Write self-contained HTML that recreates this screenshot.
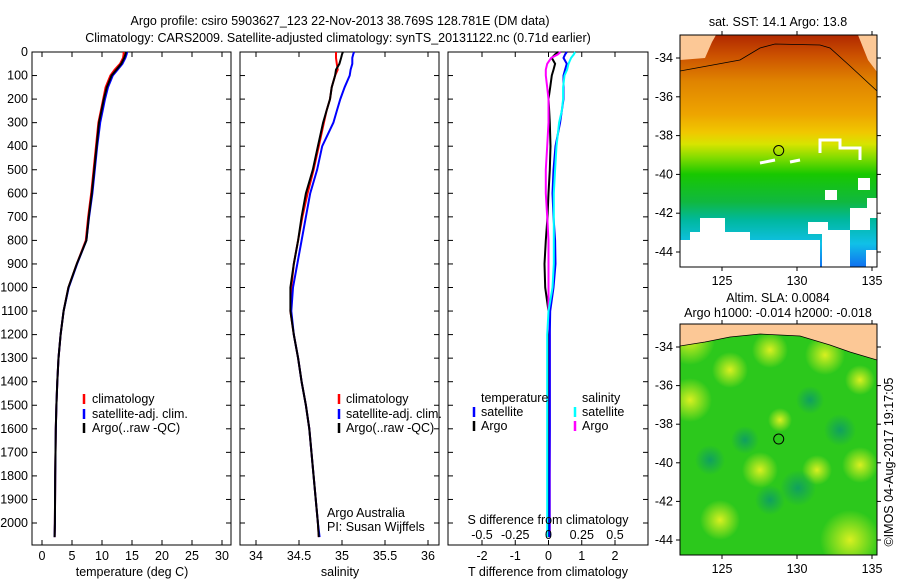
<!DOCTYPE html>
<html><head><meta charset="utf-8"><style>
body{margin:0;background:#fff;}
svg{display:block;font-family:"Liberation Sans",sans-serif;}
text{fill:#000;font-size:12.5px;}
</style></head><body>
<svg id="fig" width="900" height="580" viewBox="0 0 900 580">
<defs>
<linearGradient id="sstGrad" x1="0" y1="0" x2="0" y2="1">
<stop offset="0" stop-color="#b02800"/><stop offset="0.09" stop-color="#cc5200"/>
<stop offset="0.2" stop-color="#e08400"/><stop offset="0.34" stop-color="#eea400"/>
<stop offset="0.42" stop-color="#f0c800"/><stop offset="0.47" stop-color="#d8e400"/>
<stop offset="0.53" stop-color="#80dc00"/><stop offset="0.6" stop-color="#18c800"/>
<stop offset="0.72" stop-color="#10b840"/><stop offset="0.8" stop-color="#00b8a0"/>
<stop offset="0.9" stop-color="#10c0e8"/><stop offset="1" stop-color="#1070f0"/>
</linearGradient>
<radialGradient id="yb"><stop offset="0" stop-color="#d8f020"/><stop offset="1" stop-color="#d8f020" stop-opacity="0"/></radialGradient>
<radialGradient id="db"><stop offset="0" stop-color="#10a060"/><stop offset="1" stop-color="#10a060" stop-opacity="0"/></radialGradient>
<clipPath id="c1"><rect x="680" y="35" width="197" height="232"/></clipPath>
<clipPath id="c2"><rect x="680" y="324" width="197" height="231"/></clipPath>
</defs>
<text x="340" y="25" text-anchor="middle" font-size="13.5">Argo profile: csiro 5903627_123 22-Nov-2013 38.769S 128.781E (DM data)</text>
<text x="338" y="42" text-anchor="middle" font-size="13.5">Climatology: CARS2009. Satellite-adjusted climatology: synTS_20131122.nc (0.71d earlier)</text>
<g id="panels"></g>
<g id="maps"></g>
</svg>
<script>
// ---- profile data ----
const depths=[0,10,25,50,75,100,150,200,250,300,400,500,600,700,800,900,1000,1100,1200,1300,1400,1500,1600,1800,2000,2060];
const tempArgo=[14.0,13.9,13.7,13.2,12.4,11.6,10.8,10.3,9.9,9.5,9.1,8.7,8.3,7.8,7.4,5.8,4.4,3.6,3.1,2.75,2.55,2.4,2.3,2.2,2.15,2.1];
const tempClim=[13.6,13.6,13.5,13.0,12.1,11.4,10.6,10.2,9.8,9.4,9.0,8.6,8.2,7.7,7.3,5.8,4.4,3.6,3.1,2.75,2.55,2.4,2.3,2.2,2.15,2.1];
const tempSat=[14.2,14.1,13.9,13.4,12.6,11.8,11.0,10.5,10.1,9.7,9.2,8.8,8.4,7.85,7.4,5.85,4.45,3.6,3.1,2.75,2.55,2.4,2.3,2.2,2.15,2.1];
const salArgo=[35.01,35.0,34.99,34.97,34.93,34.92,34.88,34.86,34.82,34.78,34.72,34.66,34.58,34.53,34.49,34.44,34.40,34.40,34.44,34.49,34.53,34.58,34.62,34.67,34.72,34.73];
const salClim=[34.93,34.93,34.93,34.94,34.95,34.92,34.88,34.86,34.82,34.79,34.73,34.67,34.6,34.54,34.49,34.44,34.41,34.40,34.44,34.49,34.53,34.58,34.62,34.67,34.72,34.73];
const salSat=[35.14,35.13,35.12,35.12,35.1,35.09,35.03,34.98,34.94,34.9,34.77,34.71,34.63,34.58,34.53,34.48,34.43,34.41,34.44,34.49,34.53,34.58,34.62,34.67,34.72,34.74];
const tdiffSat=[0.55,0.5,0.45,0.55,0.5,0.45,0.45,0.45,0.4,0.35,0.21,0.15,0.12,0.15,0.2,0.21,0.15,0.05,0.04,0.04,0.04,0.04,0.04,0.03,0.03,0.03];
const tdiffArgo=[0.3,0.2,0.1,0.2,0.15,0.1,0.05,0.0,0.02,0.04,0.06,0.04,0.0,-0.03,-0.08,-0.12,-0.1,0,0.01,0,0,0,0,0,0,0];
const sdiffSat=[0.2,0.19,0.17,0.15,0.14,0.12,0.11,0.11,0.1,0.08,0.06,0.05,0.04,0.04,0.04,0.04,0.03,0.0,-0.01,-0.01,-0.01,-0.01,-0.01,-0.01,-0.01,-0.01];
const sdiffArgo=[0.09,0.07,0.02,-0.01,-0.02,-0.02,-0.01,0.0,0.0,0.0,-0.01,-0.02,-0.02,-0.01,0,0,0,0,0.01,0.01,0.01,0.01,0.01,0.01,0.01,0.01];
const depthTicks=[0,100,200,300,400,500,600,700,800,900,1000,1100,1200,1300,1400,1500,1600,1700,1800,1900,2000];
const tempTicks=[0,5,10,15,20,25,30];
const salTicks=[34,34.5,35,35.5,36];
const tdiffTicks=[-2,-1,0,1,2];
const sdiffTicks=[-0.5,-0.25,0,0.25,0.5];
const lonTicks=[125,130,135];
const latTicks=[-34,-36,-38,-40,-42,-44];
const argoLon=128.781, argoLat=-38.769;

const NS='http://www.w3.org/2000/svg';
function mk(tag,attrs,parent){const e=document.createElementNS(NS,tag);for(const k in attrs)e.setAttribute(k,attrs[k]);parent.appendChild(e);return e;}
const P=document.getElementById('panels');
const TOP=52,BOT=545;
const yD=d=>TOP+d*0.2355;
const xT=v=>42+v*6;
const xS=v=>256+(v-34)*86;
const xTd=v=>548.5+v*33.25;
const xSd=v=>548.5+v*133;

function frame(x0,x1,name){
  const r=mk('rect',{x:x0,y:TOP,width:x1-x0,height:BOT-TOP,fill:'none',stroke:'#000','stroke-width':1},P);
  
  
  depthTicks.forEach(d=>{mk('line',{x1:x0,x2:x0+5,y1:yD(d),y2:yD(d),stroke:'#000'},P);mk('line',{x1:x1-5,x2:x1,y1:yD(d),y2:yD(d),stroke:'#000'},P);});
}
function xticks(ticks,fx,x0,labels,ly){
  ticks.forEach(t=>{const x=fx(t);
    mk('line',{x1:x,x2:x,y1:TOP,y2:TOP+5,stroke:'#000'},P);
    mk('line',{x1:x,x2:x,y1:BOT-5,y2:BOT,stroke:'#000'},P);
    if(labels){const tx=mk('text',{x:x,y:ly,'text-anchor':'middle'},P);tx.textContent=String(t);
      
      }
  });
}
function line(vals,fx,color,name){
  const pts=depths.map((d,i)=>fx(vals[i]).toFixed(1)+','+yD(d).toFixed(1)).join(' ');
  const pl=mk('polyline',{points:pts,fill:'none',stroke:color,'stroke-width':2},P);
  
  
}
function txt(x,y,s,name,anchor){const t=mk('text',{x:x,y:y,'text-anchor':anchor||'start'},P);t.textContent=s;
  
  return t;}
function mark(x,y,color){mk('line',{x1:x,x2:x,y1:y-9,y2:y+1,stroke:color,'stroke-width':2.5},P);}

// panel 1
frame(32,231,'temperature-panel');
depthTicks.forEach(d=>{const t=txt(28,yD(d)+4,String(d),'depth-tick-label','end');});
xticks(tempTicks,xT,32,true,560);
line(tempClim,xT,'#f00','temp-climatology-line');
line(tempSat,xT,'#00f','temp-satellite-line');
line(tempArgo,xT,'#000','temp-argo-line');
txt(132,576,'temperature (deg C)','temperature-axis-title','middle');
mark(84,403,'#f00');txt(92,403,'climatology','legend-climatology');
mark(84,418,'#00f');txt(92,418,'satellite-adj. clim.','legend-satellite');
mark(84,432,'#000');txt(92,432,'Argo(..raw -QC)','legend-argo');

// panel 2
frame(240,439,'salinity-panel');
xticks(salTicks,xS,240,true,560);
line(salClim,xS,'#f00','sal-climatology-line');
line(salSat,xS,'#00f','sal-satellite-line');
line(salArgo,xS,'#000','sal-argo-line');
txt(340,576,'salinity','salinity-axis-title','middle');
mark(339,403,'#f00');txt(346,403,'climatology','legend-climatology-2');
mark(339,418,'#00f');txt(346,418,'satellite-adj. clim.','legend-satellite-2');
mark(339,432,'#000');txt(346,432,'Argo(..raw -QC)','legend-argo-2');
txt(327,517,'Argo Australia','credit-argo-australia');
txt(327,531,'PI: Susan Wijffels','credit-pi');

// panel 3
frame(448,648,'difference-panel');
xticks(tdiffTicks,xTd,448,true,560);
line(tdiffArgo,xTd,'#000','tdiff-argo-line');
line(sdiffArgo,xSd,'#f0f','sdiff-argo-line');
line(tdiffSat,xTd,'#00f','tdiff-satellite-line');
line(sdiffSat,xSd,'#0ff','sdiff-satellite-line');
sdiffTicks.forEach(t=>{txt(xSd(t),539,String(t),'s-tick-label','middle');});
txt(548,524,'S difference from climatology','s-axis-title','middle');
txt(548,576,'T difference from climatology','t-axis-title','middle');
txt(481,402,'temperature','legend-temperature-head');
mark(474,416,'#00f');txt(481,416,'satellite','legend-t-satellite');
mark(474,430,'#000');txt(481,430,'Argo','legend-t-argo');
txt(582,402,'salinity','legend-salinity-head');
mark(575,416,'#0ff');txt(582,416,'satellite','legend-s-satellite');
mark(575,430,'#f0f');txt(582,430,'Argo','legend-s-argo');

// ---- maps ----
const M=document.getElementById('maps');
function mapAxes(y0,y1,name){
  const xL=lo=>680+(lo-122.2)*15;
  const yL=la=>y0+23-(la+34)*(y1-y0-38)/10*1.0;
  const r=mk('rect',{x:680,y:y0,width:197,height:y1-y0,fill:'none',stroke:'#000'},M);
  
  
  lonTicks.forEach(l=>{const x=xL(l);mk('line',{x1:x,x2:x,y1:y0-4,y2:y0,stroke:'#000'},M);mk('line',{x1:x,x2:x,y1:y1,y2:y1+4,stroke:'#000'},M);
    const t=mk('text',{x:x,y:y1+18,'text-anchor':'middle'},M);t.textContent=String(l);
    
    });
  latTicks.forEach(l=>{const y=yL(l);mk('line',{x1:676,x2:680,y1:y,y2:y,stroke:'#000'},M);mk('line',{x1:877,x2:881,y1:y,y2:y,stroke:'#000'},M);
    const t=mk('text',{x:673,y:y+4,'text-anchor':'end'},M);t.textContent=String(l);
    
    });
  const c=mk('circle',{cx:xL(argoLon),cy:yL(argoLat),r:5,fill:'none',stroke:'#000'},M);
  
  
}
// map 1 (SST)
const g1=mk('g',{'clip-path':'url(#c1)'},M);
mk('rect',{x:680,y:35,width:197,height:232,fill:'url(#sstGrad)'},g1);
[[680,240,20,27],[690,232,60,35],[700,218,25,20],[750,240,70,27],[822,230,28,37],[808,222,20,12],[850,208,20,22],[867,198,10,20],[866,250,11,17],[825,190,12,10],[858,178,12,12]].forEach(r=>mk('rect',{x:r[0],y:r[1],width:r[2],height:r[3],fill:'#fff'},g1));
mk('path',{d:'M820,153 L820,140 L840,140 L840,148 L860,148 L860,160',fill:'none',stroke:'#fff','stroke-width':3},g1);
mk('path',{d:'M760,163 L775,160 M790,162 L800,160',fill:'none',stroke:'#fff','stroke-width':3},g1);
mk('path',{d:'M680,35 L680,60 L705,58 L712,42 L716,35 Z',fill:'#fcc896'},g1);
mk('path',{d:'M858,35 L877,35 L877,72 L868,60 L862,45 Z',fill:'#fcc896'},g1);
mk('path',{d:'M680,71 L740,60 L760,48 L775,44 L820,45 L830,48 L850,66 L877,91',fill:'none',stroke:'#000','stroke-width':0.8},g1);
mapAxes(35,267,'sst-map');
let t1=mk('text',{x:778,y:26,'text-anchor':'middle'},M);t1.textContent='sat. SST: 14.1  Argo: 13.8';


// map 2 (SLA)
const g2=mk('g',{'clip-path':'url(#c2)'},M);
mk('rect',{x:680,y:324,width:197,height:231,fill:'#2cc81c'},g2);
[[690,400,22],[730,370,18],[770,350,18],[825,355,20],[860,380,15],[860,465,18],[760,470,18],[817,470,15],[720,520,20],[850,540,30],[780,420,12],[690,340,25]].forEach(b=>mk('circle',{cx:b[0],cy:b[1],r:b[2],fill:'url(#yb)'},g2));
[[798,488,18],[770,500,15],[745,440,14],[840,430,16],[710,460,15],[810,400,14]].forEach(b=>mk('circle',{cx:b[0],cy:b[1],r:b[2],fill:'url(#db)'},g2));
mk('path',{d:'M680,324 L877,324 L877,360 L850,352 L830,345 L800,336 L760,334 L730,337 L705,342 L680,346 Z',fill:'#fcc896'},g2);
mk('path',{d:'M680,346 L705,342 L730,337 L760,334 L800,336 L830,345 L850,352 L877,360',fill:'none',stroke:'#000','stroke-width':0.8},g2);
mapAxes(324,555,'sla-map');
let t2=mk('text',{x:778,y:302,'text-anchor':'middle'},M);t2.textContent='Altim. SLA: 0.0084';


let t3=mk('text',{x:778,y:317,'text-anchor':'middle'},M);t3.textContent='Argo h1000: -0.014 h2000: -0.018';


let t4=mk('text',{x:893,y:462,'text-anchor':'middle',transform:'rotate(-90 893 462)'},M);t4.textContent='©IMOS 04-Aug-2017 19:17:05';


</script>
</body></html>
